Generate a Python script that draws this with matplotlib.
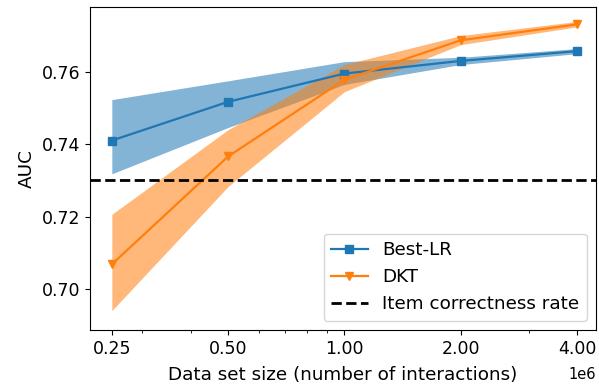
import numpy as np
import matplotlib
matplotlib.use("Agg")
import matplotlib.pyplot as plt
from matplotlib.ticker import FixedLocator, NullFormatter

# data set sizes (interactions)
sizes = [0.25e6, 0.5e6, 1e6, 2e6, 4e6]
tick_labels = ["0.25", "0.50", "1.00", "2.00", "4.00"]

lr_auc = [0.7410, 0.7517, 0.7595, 0.7630, 0.7657]
lr_lo = [0.7318, 0.7446, 0.7565, 0.7620, 0.7650]
lr_hi = [0.7523, 0.7575, 0.7628, 0.7640, 0.7664]

dkt_auc = [0.7068, 0.7366, 0.7578, 0.7687, 0.7731]
dkt_lo = [0.6940, 0.7283, 0.7545, 0.7675, 0.7724]
dkt_hi = [0.7206, 0.7440, 0.7620, 0.7700, 0.7739]

item_rate = 0.7302

plt.rcParams['font.size'] = 12.5

fig = plt.figure(figsize=(5.99, 3.88), dpi=100)
ax = fig.add_axes([0.150, 0.150, 0.845, 0.832])

ax.plot(sizes, lr_auc, '-s', color='C0', lw=1.6, ms=6, label='Best-LR')
ax.fill_between(sizes, lr_lo, lr_hi, color='C0', alpha=0.55, lw=0)
ax.plot(sizes, dkt_auc, '-v', color='C1', lw=1.6, ms=6, label='DKT')
ax.fill_between(sizes, dkt_lo, dkt_hi, color='C1', alpha=0.55, lw=0)
ax.axhline(item_rate, color='k', ls='--', lw=2, label='Item correctness rate')

ax.set_xscale('log')
ax.xaxis.set_major_locator(FixedLocator(sizes))
ax.set_xticklabels(tick_labels)
ax.xaxis.set_minor_formatter(NullFormatter())
ax.set_xlim(0.2193e6, 4.48e6)
ax.set_ylim(0.6887, 0.7779)
ax.set_yticks([0.70, 0.72, 0.74, 0.76])

ax.text(1.0, -0.115, '1e6', transform=ax.transAxes, ha='right', va='top', fontsize=10.5)

ax.set_xlabel('Data set size (number of interactions)', labelpad=6, fontsize=13.2)
ax.set_ylabel('AUC', fontsize=13.2)
ax.legend(loc='lower right', fontsize=13.2)

fig.savefig('out.png')
